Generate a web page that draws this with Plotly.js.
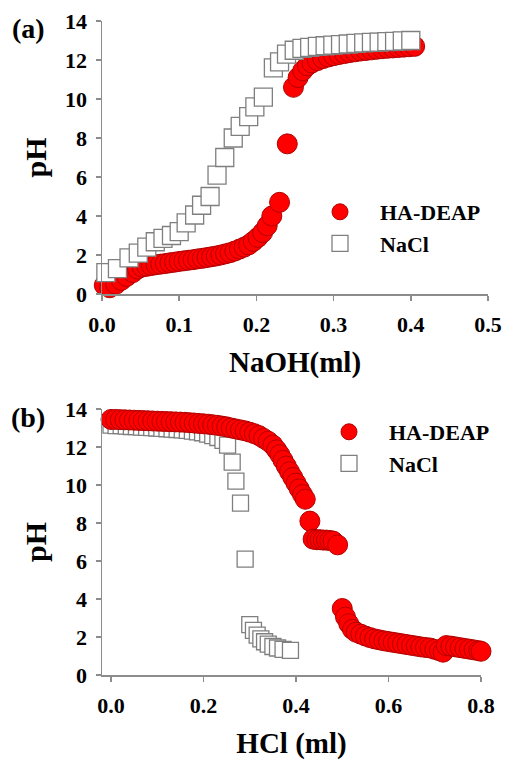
<!DOCTYPE html>
<html>
<head>
<meta charset="utf-8">
<script src="https://cdn.plot.ly/plotly-3.0.1.min.js"></script>
<style>html,body{margin:0;padding:0;background:#fff;}#chart{width:505px;height:760px;}</style>
</head>
<body>
<div id="chart"></div>
<script>
// Panel (a): titration with NaOH
const naohHA_x = [0.003, 0.010, 0.018, 0.025, 0.032, 0.040, 0.046, 0.052, 0.058, 0.064, 0.070, 0.076, 0.082, 0.088, 0.094, 0.100, 0.106, 0.112, 0.118, 0.124, 0.130, 0.136, 0.142, 0.148, 0.154, 0.160, 0.166, 0.172, 0.178, 0.184, 0.190, 0.196, 0.202, 0.208, 0.214, 0.220, 0.230, 0.240, 0.248, 0.254, 0.260, 0.266, 0.272, 0.279, 0.286, 0.293, 0.300, 0.307, 0.314, 0.321, 0.328, 0.335, 0.342, 0.349, 0.356, 0.363, 0.370, 0.377, 0.384, 0.391, 0.398, 0.405];
const naohHA_pH = [0.45, 0.32, 0.5, 0.7, 0.9, 1.1, 1.28, 1.38, 1.42, 1.46, 1.5, 1.53, 1.56, 1.6, 1.63, 1.67, 1.7, 1.73, 1.76, 1.8, 1.83, 1.87, 1.91, 1.95, 2.0, 2.06, 2.12, 2.2, 2.3, 2.4, 2.52, 2.7, 2.9, 3.15, 3.5, 4.0, 4.7, 7.7, 10.6, 11.1, 11.45, 11.7, 11.85, 11.97, 12.07, 12.15, 12.22, 12.28, 12.33, 12.38, 12.42, 12.46, 12.49, 12.52, 12.55, 12.58, 12.6, 12.62, 12.64, 12.66, 12.68, 12.7];
const naohNaCl_x = [0.005, 0.020, 0.035, 0.047, 0.058, 0.069, 0.079, 0.090, 0.100, 0.109, 0.120, 0.129, 0.140, 0.149, 0.159, 0.170, 0.179, 0.190, 0.198, 0.209, 0.222, 0.230, 0.239, 0.249, 0.259, 0.269, 0.279, 0.289, 0.299, 0.309, 0.319, 0.329, 0.339, 0.349, 0.359, 0.369, 0.379, 0.389, 0.400];
const naohNaCl_pH = [1.1, 1.3, 1.85, 2.1, 2.4, 2.68, 2.85, 3.0, 3.2, 3.65, 4.05, 4.55, 5.0, 6.1, 7.0, 8.0, 8.6, 9.1, 9.6, 10.1, 11.6, 11.9, 12.3, 12.5, 12.6, 12.65, 12.7, 12.73, 12.76, 12.79, 12.82, 12.85, 12.88, 12.9, 12.92, 12.94, 12.96, 12.98, 13.0];

// Panel (b): titration with HCl
const hclHA_x = [0.000, 0.010, 0.020, 0.030, 0.040, 0.050, 0.060, 0.070, 0.080, 0.090, 0.100, 0.110, 0.120, 0.130, 0.140, 0.150, 0.160, 0.170, 0.180, 0.190, 0.200, 0.210, 0.220, 0.230, 0.240, 0.250, 0.260, 0.270, 0.280, 0.290, 0.300, 0.310, 0.320, 0.330, 0.340, 0.350, 0.358, 0.365, 0.372, 0.379, 0.386, 0.393, 0.400, 0.407, 0.414, 0.420, 0.430, 0.437, 0.445, 0.452, 0.459, 0.466, 0.473, 0.480, 0.490, 0.500, 0.507, 0.514, 0.522, 0.530, 0.540, 0.550, 0.560, 0.570, 0.580, 0.590, 0.600, 0.610, 0.620, 0.630, 0.640, 0.650, 0.660, 0.670, 0.680, 0.690, 0.700, 0.710, 0.718, 0.725, 0.735, 0.745, 0.755, 0.765, 0.775, 0.785, 0.795, 0.800];
const hclHA_pH = [13.45, 13.45, 13.44, 13.43, 13.42, 13.41, 13.4, 13.39, 13.38, 13.37, 13.36, 13.35, 13.34, 13.33, 13.32, 13.31, 13.3, 13.28, 13.26, 13.24, 13.22, 13.2, 13.17, 13.14, 13.1, 13.06, 13.0, 12.95, 12.9, 12.85, 12.78, 12.7, 12.6, 12.45, 12.3, 12.1, 11.85, 11.6, 11.3, 11.0, 10.7, 10.4, 10.1, 9.8, 9.5, 9.25, 8.1, 7.15, 7.12, 7.12, 7.1, 7.1, 7.08, 7.05, 6.85, 3.5, 3.05, 2.7, 2.4, 2.25, 2.15, 2.05, 1.97, 1.9, 1.85, 1.8, 1.76, 1.72, 1.68, 1.64, 1.6, 1.56, 1.52, 1.48, 1.45, 1.42, 1.35, 1.28, 1.2, 1.55, 1.52, 1.48, 1.44, 1.4, 1.36, 1.32, 1.28, 1.25];
const hclNaCl_x = [0.000, 0.011, 0.022, 0.033, 0.044, 0.055, 0.066, 0.077, 0.088, 0.099, 0.110, 0.121, 0.132, 0.143, 0.154, 0.165, 0.176, 0.187, 0.198, 0.209, 0.220, 0.231, 0.242, 0.252, 0.262, 0.270, 0.280, 0.290, 0.300, 0.308, 0.316, 0.324, 0.332, 0.340, 0.350, 0.360, 0.372, 0.388];
const hclNaCl_pH = [13.15, 13.13, 13.12, 13.1, 13.08, 13.07, 13.05, 13.03, 13.02, 13.0, 12.98, 12.96, 12.94, 12.92, 12.9, 12.87, 12.84, 12.8, 12.75, 12.68, 12.6, 12.5, 12.35, 12.1, 11.2, 10.2, 9.05, 6.1, 2.65, 2.35, 2.1, 1.9, 1.75, 1.62, 1.5, 1.42, 1.35, 1.3];

const xTicksA = [0, 0.1, 0.2, 0.3, 0.4, 0.5];
const xTicksB = [0, 0.2, 0.4, 0.6, 0.8];
const yTicks = [0, 2, 4, 6, 8, 10, 12, 14];

const serif = "Liberation Serif, Times New Roman, serif";
const W = 505, H = 760;
const red = {color: '#ff0000', line: {color: '#b00000', width: 1}, symbol: 'circle'};
const sq = {color: '#ffffff', line: {color: '#7f7f7f', width: 1.3}, symbol: 'square'};

const traces = [
  {x: naohHA_x, y: naohHA_pH, name: 'HA-DEAP', type: 'scatter', mode: 'markers', xaxis: 'x', yaxis: 'y', legend: 'legend', cliponaxis: false, marker: Object.assign({size: 20}, red)},
  {x: naohNaCl_x, y: naohNaCl_pH, name: 'NaCl', type: 'scatter', mode: 'markers', xaxis: 'x', yaxis: 'y', legend: 'legend', cliponaxis: false, marker: Object.assign({size: 18}, sq)},
  {x: hclNaCl_x, y: hclNaCl_pH, name: 'NaCl', type: 'scatter', mode: 'markers', xaxis: 'x2', yaxis: 'y2', legend: 'legend2', legendrank: 2, cliponaxis: false, marker: Object.assign({size: 16}, sq)},
  {x: hclHA_x, y: hclHA_pH, name: 'HA-DEAP', type: 'scatter', mode: 'markers', xaxis: 'x2', yaxis: 'y2', legend: 'legend2', legendrank: 1, cliponaxis: false, marker: Object.assign({size: 20}, red)}
];

const tickFont = {family: serif, size: 22, color: '#000', weight: 'bold'};
const titleFont = {family: serif, size: 29, color: '#000', weight: 'bold'};
function xax(domain, range, ticks, title, anchor) {
  return {domain: domain, range: range, anchor: anchor, tickmode: 'array', tickvals: ticks, tickformat: '.1f',
    showline: true, linecolor: '#8c8c8c', linewidth: 1.5, ticks: 'outside', ticklen: 5, tickcolor: '#8c8c8c', tickwidth: 1.5,
    showgrid: false, zeroline: false, tickfont: tickFont, ticklabelstandoff: 5, title: {text: title, font: titleFont, standoff: 16}};
}
function yax(domain, anchor) {
  return {domain: domain, range: [0, 14], anchor: anchor, tickmode: 'array', tickvals: yTicks,
    showline: true, linecolor: '#8c8c8c', linewidth: 1.5, ticks: 'outside', ticklen: 5, tickcolor: '#8c8c8c', tickwidth: 1.5,
    showgrid: false, zeroline: false, tickfont: tickFont, ticklabelstandoff: 4, title: {text: 'pH', font: {family: serif, size: 30, color: '#000', weight: 'bold'}, standoff: 9}};
}

const layout = {
  width: W, height: H, margin: {l: 0, r: 0, t: 0, b: 0}, paper_bgcolor: '#fff', plot_bgcolor: '#fff',
  xaxis: xax([102 / W, 488 / W], [0, 0.5], xTicksA, 'NaOH(ml)', 'y'),
  yaxis: yax([1 - 294 / H, 1 - 21 / H], 'x'),
  xaxis2: xax([102 / W, 481 / W], [-0.0195, 0.8], xTicksB, 'HCl (ml)', 'y2'),
  yaxis2: yax([1 - 675 / H, 1 - 409 / H], 'x2'),
  legend: {x: 300 / W, y: 1 - 191 / H, xanchor: 'left', yanchor: 'top', bgcolor: 'rgba(0,0,0,0)', itemwidth: 70,
    font: {family: serif, size: 22, color: '#000', weight: 'bold'}, tracegroupgap: 0},
  legend2: {x: 309 / W, y: 1 - 411 / H, xanchor: 'left', yanchor: 'top', bgcolor: 'rgba(0,0,0,0)', itemwidth: 70,
    font: {family: serif, size: 22, color: '#000', weight: 'bold'}, tracegroupgap: 0},
  showlegend: true,
  annotations: [
    {text: '(a)', xref: 'paper', yref: 'paper', x: 28 / W, y: 1 - 29 / H, showarrow: false, xanchor: 'center', yanchor: 'middle', font: {family: serif, size: 28, color: '#000', weight: 'bold'}},
    {text: '(b)', xref: 'paper', yref: 'paper', x: 28 / W, y: 1 - 417 / H, showarrow: false, xanchor: 'center', yanchor: 'middle', font: {family: serif, size: 28, color: '#000', weight: 'bold'}}
  ]
};

Plotly.newPlot('chart', traces, layout, {displayModeBar: false, staticPlot: true});
</script>
</body>
</html>
